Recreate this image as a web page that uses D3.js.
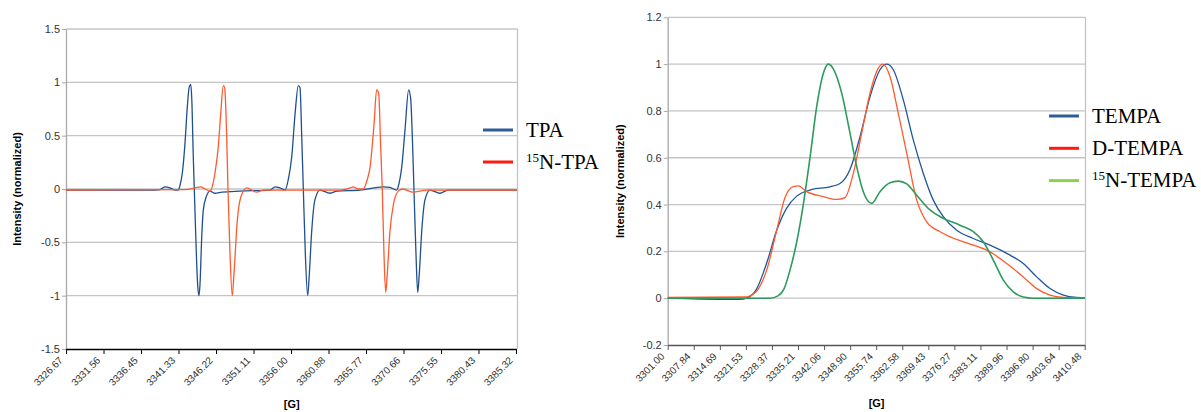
<!DOCTYPE html>
<html>
<head>
<meta charset="utf-8">
<script src="https://cdn.jsdelivr.net/npm/d3@7"></script>
<style>
  html, body { margin: 0; padding: 0; background: #fff; }
  svg { display: block; }
</style>
</head>
<body>
<svg id="chart" width="1201" height="412"></svg>
<script>
// --- data: left panel (TPA / 15N-TPA), [field G, normalized intensity]
const tpaTicks = ['3326.67', '3331.56', '3336.45', '3341.33', '3346.22', '3351.11', '3356.00',
  '3360.88', '3365.77', '3370.66', '3375.55', '3380.43', '3385.32'];
const tpaYTicks = [1.5, 1, 0.5, 0, -0.5, -1, -1.5];

const tpa = [
  [3326.67, -0.01], [3337.62, -0.01], [3338.92, -0.005], [3339.57, 0.02], [3340.23, 0.01],
  [3340.88, -0.01], [3341.27, -0.01], [3341.55, 0.04], [3341.83, 0.15], [3342.18, 0.43],
  [3342.48, 0.77], [3342.74, 0.96], [3342.93, 0.98], [3343.06, 0.85], [3343.26, 0.3],
  [3343.39, 0], [3343.61, -0.5], [3343.83, -0.9], [3344.0, -1.0], [3344.13, -0.9],
  [3344.36, -0.45], [3344.56, -0.2], [3344.92, -0.08], [3345.44, -0.02], [3346.09, -0.04],
  [3347.0, -0.03], [3349.35, -0.02], [3353.26, -0.01], [3353.91, 0.02], [3354.56, 0.01],
  [3355.21, -0.01], [3355.67, 0.1], [3356.09, 0.3], [3356.52, 0.7], [3356.95, 0.97],
  [3357.17, 0.95], [3357.39, 0.5], [3357.6, 0.0], [3357.86, -0.6], [3358.17, -1.0],
  [3358.38, -0.8], [3358.69, -0.4], [3359.12, -0.1], [3359.77, -0.01], [3361.08, -0.04],
  [3361.99, -0.02], [3364.99, -0.01], [3368.02, 0.02], [3368.89, 0.015], [3369.77, -0.01],
  [3370.07, 0.05], [3370.42, 0.2], [3370.85, 0.55], [3371.33, 0.93], [3371.59, 0.85],
  [3371.85, 0.4], [3372.02, 0], [3372.28, -0.6], [3372.51, -0.97], [3372.71, -0.8],
  [3373.03, -0.4], [3373.46, -0.1], [3374.11, -0.01], [3375.41, -0.04], [3376.46, -0.01],
  [3385.45, -0.01]
];

const tpa15N = [
  [3326.67, -0.01], [3342.18, -0.005], [3343.48, 0.01], [3344.23, 0.02], [3344.79, 0.0],
  [3345.44, -0.02], [3345.83, 0.05], [3346.09, 0.15], [3346.52, 0.4], [3346.83, 0.7],
  [3347.17, 0.97], [3347.35, 0.95], [3347.61, 0.5], [3347.78, 0.0], [3348.04, -0.6],
  [3348.34, -1.0], [3348.56, -0.8], [3348.99, -0.3], [3349.44, -0.08], [3350.22, 0.01],
  [3351.52, -0.03], [3352.38, -0.01], [3362.38, -0.01], [3363.68, 0.01], [3364.11, 0.02],
  [3364.73, 0.0], [3365.42, 0.0], [3365.9, 0.08], [3366.29, 0.2], [3366.81, 0.6],
  [3367.16, 0.93], [3367.42, 0.9], [3367.68, 0.4], [3367.89, 0], [3368.11, -0.6],
  [3368.34, -0.97], [3368.54, -0.8], [3368.89, -0.4], [3369.33, -0.15], [3369.98, -0.02],
  [3370.59, 0.0], [3371.89, -0.03], [3373.68, -0.01], [3385.45, -0.01]
];

// --- data: right panel (TEMPA / D-TEMPA / 15N-TEMPA)
const tempaTicks = ['3301.00', '3307.84', '3314.69', '3321.53', '3328.37', '3335.21', '3342.06',
  '3348.90', '3355.74', '3362.58', '3369.43', '3376.27', '3383.11', '3389.96', '3396.80',
  '3403.64', '3410.48'];
const tempaYTicks = [1.2, 1, 0.8, 0.6, 0.4, 0.2, 0, -0.2];

const tempa = [
  [3301.0, 0.0], [3315.6, -0.005], [3319.98, -0.005], [3321.74, 0.0], [3324.37, 0.04],
  [3326.99, 0.15], [3329.62, 0.29], [3332.24, 0.385], [3334.87, 0.436], [3338.36, 0.462],
  [3343.61, 0.476], [3346.24, 0.49], [3348.86, 0.55], [3351.49, 0.69], [3354.11, 0.86],
  [3356.74, 0.976], [3358.5, 1.0], [3360.23, 0.976], [3362.86, 0.847], [3365.48, 0.676],
  [3368.11, 0.533], [3370.73, 0.419], [3373.36, 0.348], [3376.87, 0.29], [3381.23, 0.255],
  [3385.62, 0.227], [3390.87, 0.184], [3394.36, 0.148], [3397.88, 0.091], [3401.37, 0.041],
  [3404.86, 0.013], [3408.38, 0.003], [3410.56, 0.0]
];

const tempaD = [
  [3301.0, 0.003], [3321.74, 0.005], [3322.87, 0.012], [3324.37, 0.03], [3326.99, 0.12],
  [3329.62, 0.29], [3331.8, 0.43], [3333.98, 0.477], [3335.29, 0.48], [3337.49, 0.455],
  [3341.85, 0.434], [3345.37, 0.422], [3347.55, 0.43], [3349.73, 0.533], [3351.93, 0.705],
  [3354.11, 0.876], [3356.29, 0.983], [3357.45, 1.0], [3359.36, 0.947], [3361.54, 0.79],
  [3363.75, 0.62], [3366.37, 0.42], [3369.0, 0.326], [3372.49, 0.284], [3376.87, 0.251],
  [3381.23, 0.227], [3385.62, 0.198], [3390.0, 0.148], [3394.36, 0.091], [3397.88, 0.041],
  [3401.37, 0.013], [3404.86, 0.003], [3410.56, 0.0]
];

const tempa15N = [
  [3301.0, 0.0], [3327.86, 0.0], [3329.96, 0.01], [3331.54, 0.04], [3333.11, 0.12],
  [3334.87, 0.24], [3336.6, 0.4], [3338.36, 0.6], [3340.12, 0.818], [3341.85, 0.96],
  [3343.16, 1.0], [3344.48, 0.98], [3346.68, 0.876], [3348.86, 0.705], [3350.62, 0.562],
  [3352.35, 0.455], [3354.56, 0.405], [3356.74, 0.455], [3359.36, 0.493], [3361.54, 0.5],
  [3363.75, 0.488], [3366.37, 0.44], [3369.86, 0.377], [3373.36, 0.341], [3377.74, 0.312],
  [3381.23, 0.284], [3383.86, 0.241], [3386.48, 0.163], [3389.11, 0.077], [3391.74, 0.027],
  [3394.36, 0.005], [3396.9, 0.0], [3410.56, 0.0]
];

const svg = d3.select('#chart');

// drawPanel()
// draws one Excel-style line chart: grid, axes, rotated category labels, series, legend
function drawPanel(p) {
  const g = svg.append('g');
  const x = d3.scaleLinear()
    .domain([+p.xTicks[0], +p.xTicks[p.xTicks.length - 1]])
    .range([p.left, p.xEnd]);
  const y = d3.scaleLinear()
    .domain(d3.extent(p.yTicks))
    .range([p.bottom, p.top]);

  // horizontal gridlines
  g.append('g').selectAll('line')
    .data(p.yTicks.filter(v => v !== d3.min(p.yTicks)))
    .join('line')
    .attr('x1', p.left).attr('x2', p.right)
    .attr('y1', d => y(d)).attr('y2', d => y(d))
    .attr('stroke', '#c4c4c4').attr('stroke-width', 1.3);

  // right frame edge
  g.append('line')
    .attr('x1', p.right).attr('x2', p.right)
    .attr('y1', p.top).attr('y2', p.bottom)
    .attr('stroke', '#c4c4c4').attr('stroke-width', 1.3);

  // y axis (plain hyphen minus, as Excel prints it)
  const yAxis = g.append('g')
    .attr('transform', `translate(${p.left},0)`)
    .call(d3.axisLeft(y).tickValues(p.yTicks).tickSize(4).tickSizeOuter(0).tickFormat(d => String(d)));
  yAxis.select('.domain').attr('stroke', '#a8a8a8').attr('stroke-width', 1.3);
  yAxis.selectAll('.tick line').attr('stroke', '#a8a8a8');
  yAxis.selectAll('text')
    .attr('fill', '#333').attr('x', -6)
    .style('font', '11px "Liberation Sans", Arial, sans-serif');

  // x axis (category style labels)
  const xAxis = g.append('g')
    .attr('transform', `translate(0,${p.bottom})`)
    .call(d3.axisBottom(x).tickValues(p.xTicks.map(Number)).tickSize(5).tickSizeOuter(0)
      .tickFormat((d, i) => p.xTicks[i]));
  xAxis.select('.domain').attr('stroke', p.baseColor).attr('stroke-width', 1.6);
  xAxis.selectAll('.tick line').attr('stroke', p.baseColor);
  xAxis.selectAll('text')
    .attr('fill', '#333')
    .attr('text-anchor', 'end')
    .attr('dy', 0)
    .attr('y', 0)
    .attr('transform', 'translate(-3,12) rotate(-45)')
    .style('font', '10px "Liberation Sans", Arial, sans-serif');

  // axis titles
  g.append('text')
    .attr('transform', `translate(${p.yTitleX},${(p.top + p.bottom) / 2}) rotate(-90)`)
    .attr('text-anchor', 'middle')
    .style('font', 'bold 11px "Liberation Sans", Arial, sans-serif')
    .text('Intensity (normalized)');
  g.append('text')
    .attr('x', (p.left + p.right) / 2).attr('y', p.xTitleY)
    .attr('text-anchor', 'middle')
    .style('font', 'bold 11px "Liberation Sans", Arial, sans-serif')
    .text('[G]');

  // series
  const line = d3.line()
    .x(d => x(d[0])).y(d => y(d[1]))
    .curve(d3.curveMonotoneX);
  g.append('g').selectAll('path')
    .data(p.series)
    .join('path')
    .attr('d', s => line(s.values))
    .attr('fill', 'none')
    .attr('stroke', s => s.color)
    .attr('stroke-width', s => s.width)
    .attr('stroke-linejoin', 'round');

  // legend
  const leg = g.append('g').selectAll('g')
    .data(p.series)
    .join('g')
    .attr('transform', (s, i) => `translate(${p.legendX},${p.legendY + i * p.legendStep})`);
  leg.append('line')
    .attr('x1', 0).attr('x2', 30)
    .attr('stroke', s => s.legendColor).attr('stroke-width', 3);
  const lt = leg.append('text')
    .attr('x', 43).attr('y', 6.5)
    .style('font', '21px "Liberation Serif", "Times New Roman", serif')
    .attr('fill', '#000');
  lt.filter(s => s.sup)
    .append('tspan').attr('font-size', '13px').attr('dy', -7).text(s => s.sup);
  lt.append('tspan').attr('dy', s => s.sup ? 7 : 0).text(s => s.name);
}

drawPanel({
  left: 66, right: 517.5, xEnd: 516, top: 29, bottom: 349,
  xTicks: tpaTicks, yTicks: tpaYTicks, baseColor: '#000',
  yTitleX: 21, xTitleY: 408,
  legendX: 483, legendY: 130, legendStep: 32,
  series: [
    { name: 'TPA', values: tpa, color: '#1f4f8f', legendColor: '#2f5d96', width: 1.3 },
    { name: 'N-TPA', sup: '15', values: tpa15N, color: '#ff5a2e', legendColor: '#ff1a10', width: 1.3 }
  ]
});

drawPanel({
  left: 667.7, right: 1085.5, xEnd: 1084.7, top: 17.3, bottom: 345,
  xTicks: tempaTicks, yTicks: tempaYTicks, baseColor: '#555',
  yTitleX: 624, xTitleY: 407,
  legendX: 1049, legendY: 116, legendStep: 32.3,
  series: [
    { name: 'TEMPA', values: tempa, color: '#22569a', legendColor: '#2f5d96', width: 1.3 },
    { name: 'D-TEMPA', values: tempaD, color: '#ff5a2e', legendColor: '#ff1a10', width: 1.3 },
    { name: 'N-TEMPA', sup: '15', values: tempa15N, color: '#2e9a5e', legendColor: '#92d050', width: 1.6 }
  ]
});
</script>
</body>
</html>
